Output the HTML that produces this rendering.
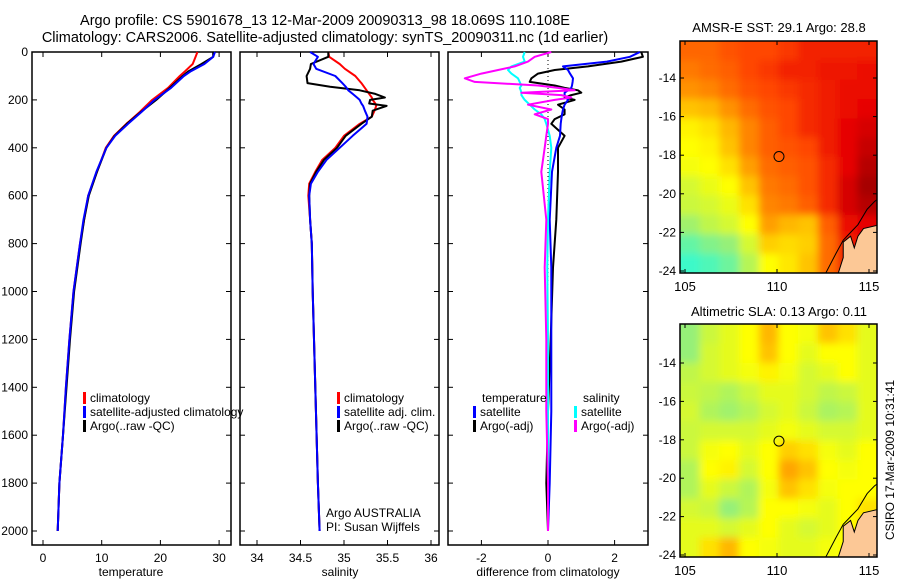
<!DOCTYPE html>
<html><head><meta charset="utf-8">
<style>
body{margin:0;background:#fff;}
svg{display:block;font-family:"Liberation Sans",sans-serif;}
text{fill:#000;}
</style></head>
<body>
<svg id="fig" width="900" height="580" viewBox="0 0 900 580">
<defs>
<filter id="blur1" x="0" y="0" width="1" height="1"><feGaussianBlur stdDeviation="4"/></filter>
<clipPath id="clipM1"><rect x="680" y="41" width="197" height="232"/></clipPath>
<clipPath id="clipM2"><rect x="680" y="324" width="197" height="233"/></clipPath>
</defs>
<text x="325" y="25" font-size="14.5" text-anchor="middle">Argo profile: CS 5901678_13 12-Mar-2009 20090313_98 18.069S 110.108E</text>
<text x="325" y="42" font-size="14.5" text-anchor="middle">Climatology: CARS2006. Satellite-adjusted climatology: synTS_20090311.nc (1d earlier)</text>
<g id="layer"></g>
<text x="779" y="32" font-size="13" text-anchor="middle">AMSR-E SST: 29.1 Argo: 28.8</text>
<text x="779" y="316" font-size="13" text-anchor="middle">Altimetric SLA: 0.13 Argo: 0.11</text>
<text transform="translate(894,460) rotate(-90)" font-size="12" text-anchor="middle">CSIRO 17-Mar-2009 10:31:41</text>
</svg>
<script>
// ---- profile data ----
const tDepth=[0,20,50,80,100,150,200,250,300,350,400,500,600,700,800,1000,1200,1400,1600,1800,2000];
const tClim=[26.3,26.0,25.5,24.2,23.3,21.3,18.6,16.5,14.2,12.1,10.7,9.2,7.7,7.0,6.3,5.2,4.5,3.9,3.4,2.8,2.5];
const tSat=[29.3,29.0,27.5,25.2,24.0,21.8,19.0,16.8,14.5,12.3,10.8,9.1,7.7,6.9,6.3,5.2,4.5,3.9,3.4,2.8,2.5];
const tArgo=[29.0,29.0,27.0,24.8,23.8,21.6,19.3,16.7,14.3,12.2,10.8,9.2,7.8,7.0,6.4,5.3,4.6,4.0,3.4,2.8,2.5];
const sDepth=[0,20,50,70,100,130,145,160,175,190,200,215,225,245,270,300,350,400,450,500,550,600,700,800,1000,1400,1800,2000];
const sClim=[34.82,34.83,34.95,35.01,35.13,35.2,35.23,35.26,35.29,35.32,35.33,35.36,35.37,35.35,35.32,35.18,35.0,34.9,34.75,34.67,34.6,34.59,34.61,34.63,34.64,34.67,34.7,34.72];
const sSat=[34.61,34.7,34.65,34.68,34.9,34.98,35.02,35.05,35.1,35.15,35.18,35.2,35.22,35.24,35.27,35.26,35.1,34.95,34.8,34.7,34.62,34.6,34.61,34.63,34.64,34.67,34.7,34.72];
const sArgo=[34.82,34.82,34.62,34.61,34.57,34.58,34.84,35.18,35.36,35.47,35.3,35.29,35.49,35.33,35.32,35.2,35.02,34.92,34.77,34.68,34.61,34.6,34.61,34.63,34.64,34.67,34.7,34.72];
const dDepth=[0,20,40,60,75,90,110,125,140,150,160,170,180,190,200,220,240,260,280,300,350,400,500,700,900,1200,1500,1800,2000];
const dTsat=[2.76,2.46,1.77,0.45,0.6,0.66,0.75,0.74,0.72,0.7,0.6,0.5,0.5,0.55,0.6,0.5,0.45,0.42,0.4,0.38,0.36,0.25,0.12,0.05,0.1,0.1,0.1,0.05,0.0];
const dTargo=[2.8,2.85,2.2,1.2,0.2,-0.3,-0.5,-0.55,0.2,0.5,0.9,1.0,0.7,0.5,0.8,0.3,0.5,0.5,0.2,0.1,0.5,0.3,0.3,0.25,0.15,0.08,0.0,-0.05,0.0];
const dSsat=[-0.7,-0.75,-0.7,-1.1,-1.2,-1.1,-0.9,-0.85,-0.8,-0.85,-0.82,-0.8,-0.8,-0.75,-0.7,-0.55,-0.4,-0.2,-0.1,-0.05,0.05,0.1,0.05,0.0,-0.02,0.0,0.0,0.0,0.0];
const dSargo=[0.1,-0.4,-0.6,-1.0,-1.5,-2.0,-2.5,-2.2,-0.3,0.3,0.8,-0.8,0.4,0.7,0.2,-0.6,0.1,-0.4,0.0,0.0,-0.05,-0.1,-0.2,-0.05,-0.1,-0.05,-0.05,0.0,0.0];
const depthTicks=[0,200,400,600,800,1000,1200,1400,1600,1800,2000];
const tempTicks=[0,10,20,30];
const salTicks=[34,34.5,35,35.5,36];
const salTickLabels=["34","34.5","35","35.5","36"];
const diffTicks=[-2,0,2];
const lonTicks=[105,110,115];
const latTicks=[-14,-16,-18,-20,-22,-24];
// ---- map data (rows top->bottom, cols west->east) ----
const sstGrid=[
[0.75,0.75,0.78,0.80,0.80,0.82,0.85,0.85,0.85,0.85],
[0.72,0.74,0.76,0.80,0.82,0.85,0.85,0.87,0.87,0.88],
[0.68,0.70,0.74,0.78,0.80,0.82,0.84,0.86,0.88,0.88],
[0.60,0.62,0.68,0.74,0.78,0.80,0.84,0.86,0.88,0.90],
[0.52,0.55,0.62,0.70,0.76,0.80,0.84,0.86,0.90,0.92],
[0.50,0.52,0.60,0.70,0.76,0.78,0.80,0.86,0.90,0.94],
[0.48,0.50,0.55,0.66,0.74,0.76,0.78,0.84,0.90,0.96],
[0.42,0.46,0.50,0.60,0.72,0.74,0.78,0.84,0.92,0.98],
[0.40,0.42,0.46,0.55,0.70,0.72,0.76,0.84,0.92,0.96],
[0.32,0.38,0.42,0.50,0.66,0.62,0.60,0.76,0.88,0.90],
[0.20,0.26,0.30,0.42,0.58,0.56,0.58,0.74,0.86,0.90],
[0.12,0.16,0.22,0.36,0.50,0.54,0.60,0.74,0.86,0.90]];
const slaGrid=[
[0.30,0.40,0.45,0.50,0.62,0.50,0.48,0.60,0.55,0.45],
[0.30,0.42,0.45,0.50,0.60,0.50,0.45,0.50,0.50,0.45],
[0.38,0.42,0.45,0.48,0.52,0.48,0.42,0.45,0.50,0.45],
[0.40,0.38,0.35,0.40,0.45,0.45,0.42,0.38,0.40,0.45],
[0.42,0.35,0.32,0.36,0.42,0.45,0.40,0.34,0.36,0.45],
[0.40,0.42,0.42,0.42,0.45,0.48,0.45,0.42,0.42,0.45],
[0.40,0.48,0.50,0.45,0.50,0.58,0.55,0.48,0.45,0.50],
[0.35,0.50,0.52,0.42,0.50,0.65,0.60,0.50,0.48,0.50],
[0.35,0.45,0.40,0.35,0.48,0.60,0.55,0.48,0.50,0.50],
[0.42,0.40,0.30,0.36,0.50,0.50,0.48,0.45,0.50,0.55],
[0.45,0.45,0.42,0.45,0.50,0.45,0.42,0.45,0.50,0.55],
[0.45,0.55,0.62,0.50,0.48,0.45,0.45,0.48,0.50,0.55]];
const argoLon=110.108, argoLat=-18.069;
const landLon=[113.3,113.6,113.6,114.0,114.2,114.4,114.7,115.6,115.6];
const landLat=[-24.2,-23.3,-22.5,-22.2,-22.8,-22.2,-21.8,-21.6,-24.2];
const coastLon=[112.6,113.2,113.6,114.0,114.4,114.9,115.3,115.6];
const coastLat=[-24.2,-23.1,-22.4,-22.0,-21.6,-20.8,-20.4,-20.2];

const NS='http://www.w3.org/2000/svg';
const L=document.getElementById('layer');
function mk(t,a,p){const e=document.createElementNS(NS,t);for(const k in a)e.setAttribute(k,a[k]);(p||L).appendChild(e);return e;}

const top0=52,bot0=545;
const yD=d=>top0+d*0.2395;
const panels=[
 {x0:32,x1:231,fx:v=>43+v*5.87,name:'temperature-panel'},
 {x0:240,x1:439,fx:v=>257+(v-34)*87,name:'salinity-panel'},
 {x0:448,x1:648,fx:v=>548+v*33.3,name:'difference-panel'}];

function line(xs,ys,fx,fy,col,name){
  const pts=xs.map((v,i)=>fx(v).toFixed(1)+','+fy(ys[i]).toFixed(1)).join(' ');
  const p=mk('polyline',{points:pts,fill:'none',stroke:col,'stroke-width':2,'stroke-linejoin':'round'});
  
  
}

panels.forEach((P,pi)=>{
  const r=mk('rect',{x:P.x0,y:top0,width:P.x1-P.x0,height:bot0-top0,fill:'none',stroke:'#000','stroke-width':1.5});
  
  
  depthTicks.forEach(d=>{
    const y=yD(d);
    mk('line',{x1:P.x0,x2:P.x0+5,y1:y,y2:y,stroke:'#000'});
    mk('line',{x1:P.x1-5,x2:P.x1,y1:y,y2:y,stroke:'#000'});
    if(pi===0){const t=mk('text',{x:P.x0-4,y:y+4,'font-size':12,'text-anchor':'end'});t.textContent=d;
      
      }
  });
});
function xt(P,vals,labels,nm){
  vals.forEach((v,i)=>{const x=P.fx(v);
    mk('line',{x1:x,x2:x,y1:bot0,y2:bot0-5,stroke:'#000'});
    mk('line',{x1:x,x2:x,y1:top0,y2:top0+5,stroke:'#000'});
    const t=mk('text',{x:x,y:bot0+17,'font-size':12,'text-anchor':'middle'});t.textContent=labels[i];
    
    });
}
xt(panels[0],tempTicks,tempTicks.map(String),'temperature-tick-label');
xt(panels[1],salTicks,salTickLabels,'salinity-tick-label');
xt(panels[2],diffTicks,diffTicks.map(String),'difference-tick-label');
[['temperature',131],['salinity',340],['difference from climatology',548]].forEach(([s,x])=>{
  const t=mk('text',{x:x,y:576,'font-size':12,'text-anchor':'middle'});t.textContent=s;
  
  });

const zl=mk('line',{x1:548,x2:548,y1:top0,y2:yD(2000),stroke:'#000','stroke-dasharray':'1 3'});



const P0=panels[0],P1=panels[1],P2=panels[2];
line(tClim,tDepth,P0.fx,yD,'#f00','temp-climatology-line');
line(tArgo,tDepth,P0.fx,yD,'#000','temp-argo-line');
line(tSat,tDepth,P0.fx,yD,'#00f','temp-satellite-line');
line(sClim,sDepth,P1.fx,yD,'#f00','sal-climatology-line');
line(sArgo,sDepth,P1.fx,yD,'#000','sal-argo-line');
line(sSat,sDepth,P1.fx,yD,'#00f','sal-satellite-line');
line(dTargo,dDepth,P2.fx,yD,'#000','diff-temp-argo-line');
line(dTsat,dDepth,P2.fx,yD,'#00f','diff-temp-satellite-line');
line(dSsat,dDepth,P2.fx,yD,'#0ff','diff-sal-satellite-line');
line(dSargo,dDepth,P2.fx,yD,'#f0f','diff-sal-argo-line');

function legend(x,y,items,nm){
  items.forEach(([col,s],i)=>{
    const yy=y+i*14;
    if(col)mk('rect',{x:x,y:yy-10,width:3,height:12,fill:col});
    const t=mk('text',{x:x+(col?7:9),y:yy,'font-size':12});t.textContent=s;
    
    
  });
}
legend(83,402,[['#f00','climatology'],['#00f','satellite-adjusted climatology'],['#000','Argo(..raw -QC)']],'temp-legend-entry');
legend(337,402,[['#f00','climatology'],['#00f','satellite adj. clim.'],['#000','Argo(..raw -QC)']],'sal-legend-entry');
legend(473,402,[[null,'temperature'],['#00f','satellite'],['#000','Argo(-adj)']],'diff-temp-legend-entry');
legend(574,402,[[null,'salinity'],['#0ff','satellite'],['#f0f','Argo(-adj)']],'diff-sal-legend-entry');
const t1=mk('text',{x:326,y:517,'font-size':12});t1.textContent='Argo AUSTRALIA';


const t2=mk('text',{x:326,y:531,'font-size':12});t2.textContent='PI: Susan Wijffels';



// ---- maps ----
function cmap(v){
  const st=[[0,[0,255,255]],[0.3,[150,240,120]],[0.5,[255,255,0]],[0.65,[255,165,0]],[0.8,[255,70,0]],[0.9,[230,0,0]],[1,[150,0,0]]];
  v=Math.max(0,Math.min(1,v));
  for(let i=1;i<st.length;i++){if(v<=st[i][0]){const a=st[i-1],b=st[i],f=(v-a[0])/(b[0]-a[0]);
    return 'rgb('+a[1].map((c,k)=>Math.round(c+(b[1][k]-c)*f)).join(',')+')';}}
  return 'rgb(150,0,0)';
}
function drawMap(grid,x0,x1,yTop,yBot,lat14y,lat24y,clip,nm){
  const fx=lon=>685+(lon-105)*18.4;
  const fy=lat=>lat14y+(-14-lat)*(lat24y-lat14y)/10;
  const g=mk('g',{'clip-path':'url(#'+clip+')'});
  
  
  const gb=mk('g',{filter:'url(#blur1)'},g);
  const rows=grid.length,cols=grid[0].length;
  const cw=(x1-x0)/cols,ch=(yBot-yTop)/rows;
  mk('rect',{x:x0-10,y:yTop-10,width:x1-x0+20,height:yBot-yTop+20,fill:cmap(grid[0][0])},gb);
  grid.forEach((row,r)=>row.forEach((v,c)=>{
    const cell=mk('rect',{x:x0+c*cw-(c==0?10:0),y:yTop+r*ch-(r==0?10:0),width:cw+1+(c==0||c==cols-1?10:0),height:ch+1+(r==0||r==rows-1?10:0),fill:cmap(v)},gb);
    
    
  }));
  const land=mk('polygon',{points:landLon.map((lo,i)=>fx(lo)+','+fy(landLat[i])).join(' '),fill:'#fcc896',stroke:'#000','stroke-width':1},g);
  
  
  const coast=mk('polyline',{points:coastLon.map((lo,i)=>fx(lo)+','+fy(coastLat[i])).join(' '),fill:'none',stroke:'#000','stroke-width':1},g);
  
  
  const fr=mk('rect',{x:x0,y:yTop,width:x1-x0,height:yBot-yTop,fill:'none',stroke:'#000','stroke-width':1.5});
  
  
  const ci=mk('circle',{cx:fx(argoLon),cy:fy(argoLat),r:5,fill:'none',stroke:'#000','stroke-width':1});
  
  
  lonTicks.forEach(lo=>{const x=fx(lo);
    mk('line',{x1:x,x2:x,y1:yBot,y2:yBot-4,stroke:'#000'});
    mk('line',{x1:x,x2:x,y1:yTop,y2:yTop+4,stroke:'#000'});
    const t=mk('text',{x:x,y:yBot+18,'font-size':13,'text-anchor':'middle'});t.textContent=lo;
    
    });
  latTicks.forEach(la=>{const y=fy(la);
    mk('line',{x1:x0,x2:x0+4,y1:y,y2:y,stroke:'#000'});
    mk('line',{x1:x1-4,x2:x1,y1:y,y2:y,stroke:'#000'});
    const t=mk('text',{x:x0-4,y:y+4,'font-size':12,'text-anchor':'end'});t.textContent=la;
    
    });
}
drawMap(sstGrid,680,877,41,273,78,271,'clipM1','sst-map');
drawMap(slaGrid,680,877,324,557,363,555,'clipM2','sla-map');
</script>
</body></html>
